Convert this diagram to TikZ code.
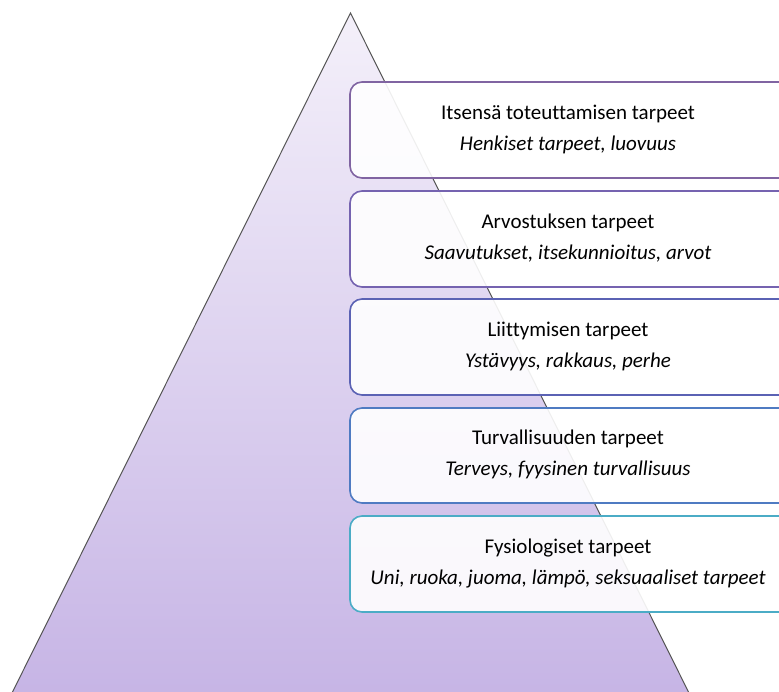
\documentclass[tikz,border=0pt]{standalone}
\usepackage{fontspec}
\setmainfont{Carlito}[Ligatures={NoCommon}]
\definecolor{triTop}{HTML}{F4F0FA}
\definecolor{triBot}{HTML}{C6B4E5}
\definecolor{triEdge}{HTML}{555555}
\definecolor{cA}{HTML}{8064A2}
\definecolor{cB}{HTML}{7563B0}
\definecolor{cC}{HTML}{5B62B4}
\definecolor{cD}{HTML}{4F7BC2}
\definecolor{cE}{HTML}{4BACC6}
\begin{document}
\begin{tikzpicture}[x=1pt,y=-1pt,
  levelbox/.style={draw=#1, line width=1.6pt, fill=white, fill opacity=0.9, rounded corners=12pt},
  title/.style={font=\fontsize{21}{25}\selectfont, text=black, anchor=base, inner sep=0pt},
  sub/.style={font=\fontsize{21}{25}\selectfont\itshape, text=black, anchor=base, inner sep=0pt}]
\useasboundingbox (0,0) rectangle (779,691);
% triangle
\coordinate (apex) at (350.5,13);
\coordinate (bl) at (8,701);
\coordinate (br) at (693,701);
\shade[top color=triTop, bottom color=triBot] (apex) -- (br) -- (bl) -- cycle;
\draw[triEdge, line width=1pt] (bl) -- (apex) -- (br);
% boxes
\foreach \t/\b/\c/\n in {82/178/cA/1, 191/287/cB/2, 299/395/cC/3, 408/503/cD/4, 516/612/cE/5}{
  \path[levelbox=\c] (790,\t) -- (350,\t) [rounded corners=12pt] -- (350,\b) -- (790,\b);
}
\foreach \t/\b/\c/\n in {82/178/cA/1, 191/287/cB/2, 299/395/cC/3, 408/503/cD/4, 516/612/cE/5}{
  \coordinate (box\n) at (568,{(\t+\b)/2});
}
\node[title] (t1) at ([yshift=11]box1) {Itsensä toteuttamisen tarpeet};
\node[sub] (s1) at ([yshift=-20]box1) {Henkiset tarpeet, luovuus};
\node[title] (t2) at ([yshift=11]box2) {Arvostuksen tarpeet};
\node[sub] (s2) at ([yshift=-20]box2) {Saavutukset, itsekunnioitus, arvot};
\node[title] (t3) at ([yshift=11]box3) {Liittymisen tarpeet};
\node[sub] (s3) at ([yshift=-20]box3) {Ystävyys, rakkaus, perhe};
\node[title] (t4) at ([yshift=11]box4) {Turvallisuuden tarpeet};
\node[sub] (s4) at ([yshift=-20]box4) {Terveys, fyysinen turvallisuus};
\node[title] (t5) at ([yshift=11]box5) {Fysiologiset tarpeet};
\node[sub] (s5) at ([yshift=-20]box5) {Uni, ruoka, juoma, lämpö, seksuaaliset tarpeet};
\end{tikzpicture}
\end{document}
